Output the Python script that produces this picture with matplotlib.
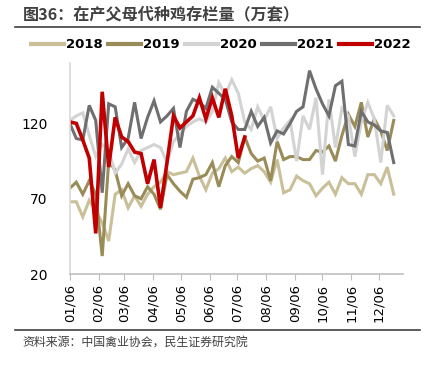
import numpy as np
import matplotlib
matplotlib.use('Agg')
import matplotlib.pyplot as plt
from matplotlib.lines import Line2D

plt.rcParams['font.family'] = ['Noto Sans CJK SC', 'DejaVu Sans']

# weekly readings (万套), first point on 01/06
y2018 = [68, 68, 58, 69, 62, 54, 42, 73, 76, 64, 72, 65, 73, 78, 81, 88, 86, 87, 88, 97,
         85, 76, 87, 90, 97, 88, 91, 87, 90, 92, 88, 81, 96, 74, 76, 85, 82, 80, 72, 77,
         81, 73, 84, 80, 80, 73, 86, 86, 80, 91, 73]
y2019 = [77, 81, 73, 82, 73, 32, 95, 89, 72, 80, 72, 70, 78, 73, 63, 86, 80, 75, 71, 83,
         84, 86, 94, 78, 92, 98, 94, 111, 100, 95, 97, 82, 108, 96, 98, 98, 96, 96, 102, 101,
         105, 95, 112, 126, 118, 134, 111, 123, 115, 102, 122]
y2020 = [122, 125, 127, 112, 98, 106, 102, 87, 93, 103, 94, 102, 104, 106, 104, 94, 108, 113, 118, 121,
         123, 121, 128, 147, 139, 149, 140, 121, 116, 131, 122, 131, 110, 117, 122, 95, 125, 116, 137, 86,
         136, 104, 130, 125, 98, 121, 134, 123, 94, 132, 125]
y2021 = [120, 110, 109, 132, 122, 74, 133, 131, 104, 110, 134, 110, 124, 135, 121, 125, 130, 104, 128, 136,
         134, 130, 144, 140, 136, 121, 116, 116, 128, 118, 124, 107, 115, 113, 120, 128, 131, 155, 143, 133,
         125, 145, 148, 106, 105, 128, 121, 119, 115, 114, 94]
y2022 = [121, 120, 109, 97, 47, 141, 91, 124, 111, 108, 101, 100, 80, 96, 64, 94, 125, 117, 121, 125,
         137, 123, 137, 124, 143, 125, 97, 111]

years = ['2018', '2019', '2020', '2021', '2022']
colors = ['#c9bf98', '#9a8c58', '#d3d3d3', '#6f6f6f', '#c00000']
tick_labels = ['01/06', '02/06', '03/06', '04/06', '05/06', '06/06',
               '07/06', '08/06', '09/06', '10/06', '11/06', '12/06']
month_days = [0, 31, 59, 90, 120, 151, 181, 212, 243, 273, 304, 334]

fig = plt.figure(figsize=(4.31, 3.65), dpi=100)
ax = fig.add_axes([0.162, 0.249, 0.773, 0.578])

series = [y2018, y2019, y2020, y2021, y2022]
for vals, c, lab in zip(series, colors, years):
    days = np.arange(len(vals)) * 7
    lw = 2.6 if lab == '2022' else 2.2
    ax.plot(days, vals, color=c, lw=lw, label=lab, solid_joinstyle='miter')

ax.set_xlim(0, 360)
ax.set_ylim(20, 160)
ax.set_yticks([20, 70, 120])
ax.set_xticks(month_days)
ax.set_xticklabels(tick_labels, rotation=90, fontsize=9.5, family=['DejaVu Sans'])
ax.tick_params(axis='y', length=0, labelsize=10, pad=16)
ax.tick_params(axis='x', length=4, color='#bfbfbf', pad=3)
for lbl in ax.get_yticklabels():
    lbl.set_family(['DejaVu Sans'])
for s in ['top', 'right']:
    ax.spines[s].set_visible(False)
ax.spines['left'].set_color('#d9d9d9')
ax.spines['bottom'].set_color('#bfbfbf')
ax.spines['left'].set_linewidth(1.2)
ax.spines['bottom'].set_linewidth(1.2)

handles = [Line2D([0], [0], color=c, lw=3) for c in colors]
fig.legend(handles, years, loc='center', bbox_to_anchor=(0.513, 0.877), ncol=5,
           frameon=False, handlelength=2.5, handletextpad=0.15, columnspacing=0.4,
           borderpad=0, borderaxespad=0,
           prop={'weight': 'bold', 'size': 9.5, 'family': 'DejaVu Sans'})

fig.text(0.053, 0.962, '图36：在产父母代种鸡存栏量（万套）', fontsize=11.6,
         fontweight='bold', color='#404040', va='center', ha='left')
fig.add_artist(Line2D([0.035, 0.975], [0.925, 0.925], color='#404040', lw=1.2))
fig.add_artist(Line2D([0.035, 0.975], [0.095, 0.095], color='#404040', lw=1.2))
fig.text(0.051, 0.063, '资料来源：中国禽业协会，民生证券研究院', fontsize=8.6,
         color='#404040', va='center', ha='left')

fig.savefig('out.png', dpi=100)
